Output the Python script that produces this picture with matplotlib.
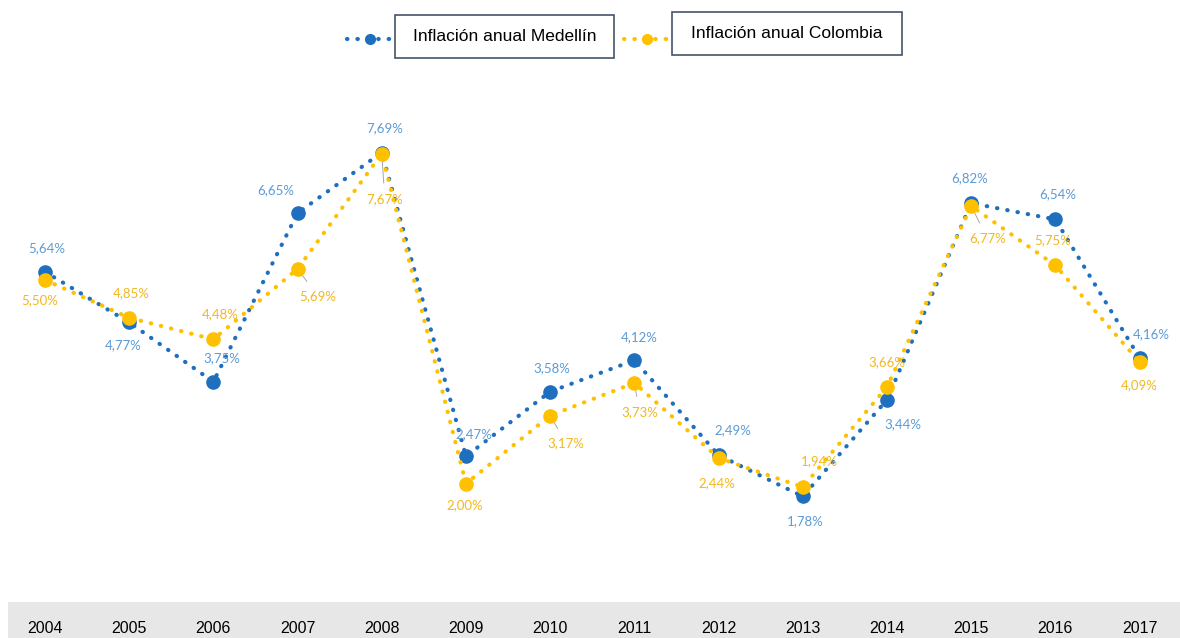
import matplotlib.pyplot as plt
from matplotlib.lines import Line2D
from matplotlib.patches import Rectangle

# Data
years = ["2004", "2005", "2006", "2007", "2008", "2009", "2010",
         "2011", "2012", "2013", "2014", "2015", "2016", "2017"]
medellin = [5.64, 4.77, 3.75, 6.65, 7.69, 2.47, 3.58, 4.12, 2.49, 1.78, 3.44, 6.82, 6.54, 4.16]
colombia = [5.50, 4.85, 4.48, 5.69, 7.67, 2.00, 3.17, 3.73, 2.44, 1.94, 3.66, 6.77, 5.75, 4.09]

# label offsets in pixels (dx, dy), and whether a leader line is drawn
med_off = [(2, 24), (-6, -23), (8, 24), (-22, 23), (3, 24), (8, 22), (2, 24),
           (5, 23), (14, 25), (2, -25), (16, -24), (-2, 25), (2, 25), (12, 24)]
col_off = [(-5, -20), (2, 25), (7, 25), (20, -27), (3, -45), (-1, -22), (16, -28),
           (5, -29), (-2, -25), (17, 26), (0, 25), (16, -32), (-3, 25), (0, -23)]
col_lead = [False, False, False, True, True, False, True,
            True, False, False, False, True, False, False]

BLUE = "#1f6fbf"
YELLOW = "#ffc000"
BLUE_TXT = "#5b9bd5"
YELLOW_TXT = "#f2b820"

fig = plt.figure(figsize=(11.8, 6.38), dpi=100)
ax = fig.add_axes([0, 38 / 638, 1, 540 / 638])
x = list(range(len(years)))

style = dict(linestyle=(0, (0.1, 2.4)), linewidth=3.0, dash_capstyle="round",
             marker="o", markersize=9.5)
ax.plot(x, colombia, color=YELLOW, zorder=3, **style)
ax.plot(x, medellin, color=BLUE, zorder=2, **style)

for i in x:
    ax.annotate(f"{medellin[i]:.2f}%".replace(".", ","), (i, medellin[i]),
                xytext=(med_off[i][0] * 0.72, med_off[i][1] * 0.72), textcoords="offset points",
                ha="center", va="center", fontsize=9.5, family="Lato", color=BLUE_TXT, zorder=5)
    lead = dict(arrowstyle="-", color="#a6a6a6", lw=0.7, shrinkA=5, shrinkB=6) if col_lead[i] else None
    ax.annotate(f"{colombia[i]:.2f}%".replace(".", ","), (i, colombia[i]),
                xytext=(col_off[i][0] * 0.72, col_off[i][1] * 0.72), textcoords="offset points",
                ha="center", va="center", fontsize=9.5, family="Lato", color=YELLOW_TXT,
                arrowprops=lead, zorder=5)

ax.set_xlim(-0.534, 13.48)
ax.set_ylim(0, 9.28)
ax.set_yticks([])
ax.set_xticks(x, years)
ax.tick_params(axis="x", length=0, pad=15, labelsize=11.5, labelcolor="#000000")
for lab in ax.get_xticklabels():
    lab.set_family("Liberation Sans")
for s in ax.spines.values():
    s.set_visible(False)

# grey band behind the year labels
fig.add_artist(Rectangle((8 / 1180, 0), 1, 36 / 638, transform=fig.transFigure,
                         facecolor="#e7e7e7", edgecolor="none", zorder=0))

# legend
def legend_item(x0, x1, y, color, box_x, box_y, box_w, box_h, text):
    fig.add_artist(Line2D([x0 / 1180, x1 / 1180], [1 - y / 638] * 2, color=color,
                          linestyle=(0, (0.1, 2.4)), linewidth=3, dash_capstyle="round"))
    fig.add_artist(Line2D([(x0 + x1) / 2 / 1180], [1 - y / 638], color=color,
                          marker="o", markersize=7, linestyle="none"))
    fig.add_artist(Rectangle((box_x / 1180, 1 - (box_y + box_h) / 638), box_w / 1180, box_h / 638,
                             transform=fig.transFigure, facecolor="white",
                             edgecolor="#44546a", linewidth=1.2))
    fig.text((box_x + box_w / 2) / 1180, 1 - (box_y + box_h / 2) / 638, text,
             ha="center", va="center", fontsize=12.5,
             family=["Liberation Sans Narrow", "Liberation Sans"])

legend_item(347, 393, 39, BLUE, 395, 15, 219, 43, "Inflación anual Medellín")
legend_item(624, 670, 39, YELLOW, 672, 12, 230, 43, "Inflación anual Colombia")

fig.savefig("out.png", dpi=100, facecolor="white")
